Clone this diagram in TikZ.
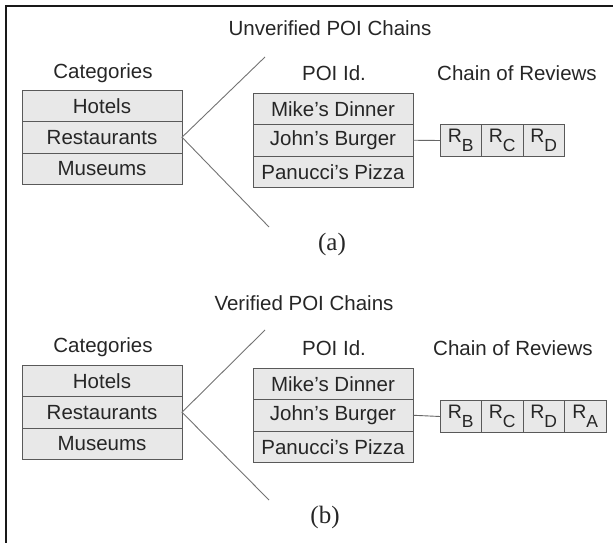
\documentclass[tikz,border=0pt]{standalone}
\usepackage{fontspec}
\setmainfont{Liberation Sans}
\newfontfamily\capfont{Liberation Serif}
\begin{document}
\begin{tikzpicture}[x=1pt,y=-1pt,
  every node/.style={inner sep=0pt,outer sep=0pt,text=black!85},
  lbl/.style={font=\fontsize{20.5}{23}\selectfont},
  panellabel/.style={font=\capfont\fontsize{25}{27}\selectfont},
  cell/.style={draw=black!65,line width=0.9pt,fill=black!9,minimum width=160pt,minimum height=31.5pt,
    font=\fontsize{20.5}{23}\selectfont},
  rev/.style={draw=black!65,line width=0.9pt,fill=black!9,minimum width=41.5pt,minimum height=32pt},
  link/.style={draw=black!60,line width=0.9pt},
  fan/.style={draw=black!55,line width=0.9pt}]
% review symbol: R with a large, deeply lowered index
\newcommand{\rv}[1]{{\fontsize{19.5}{20}\selectfont R}\raisebox{-9pt}{\fontsize{17.5}{20}\selectfont #1}}
\useasboundingbox (0,0) rectangle (613,543);
% frame (top and left edges only)
\draw[line width=2.2pt,black!90] (613,6) -- (6,6) -- (6,543);

% ---- panel (a): unverified chains ----
\node[lbl] (ta) at (330,28) {Unverified POI Chains};
\node[lbl] (cata) at (103,73) {Categories};
\node[cell,anchor=north west] (ha) at (22,90) {Hotels};
\node[cell,anchor=north] (ra) at (ha.south) {Restaurants};
\node[cell,anchor=north] (ma) at (ra.south) {Museums};
\coordinate (ua) at (265,57);
\coordinate (da) at (269,227);
\draw[fan] (ua) -- (ra.east) -- (da);
\node[lbl] (pida) at (334,73) {POI Id.};
\node[cell,anchor=north west] (p1a) at (253,93) {Mike's Dinner};
\node[cell,anchor=north] (p2a) at (p1a.south) {John's Burger};
\node[cell,anchor=north] (p3a) at (p2a.south) {Panucci's Pizza};
\node[lbl] (chna) at (517,73) {Chain of Reviews};
\node[rev,anchor=north west] (rba) at (440,124.5) {\rv{B}};
\node[rev,anchor=west] (rca) at (rba.east) {\rv{C}};
\node[rev,anchor=west] (rda) at (rca.east) {\rv{D}};
\draw[link] (p2a.east) -- (rba.west);
\node[panellabel] (capa) at (332,244) {(a)};

% ---- panel (b): verified chains ----
\node[lbl] (tb) at (304,303) {Verified POI Chains};
\node[lbl] (catb) at (103,347) {Categories};
\node[cell,anchor=north west] (hb) at (22,365) {Hotels};
\node[cell,anchor=north] (rb) at (hb.south) {Restaurants};
\node[cell,anchor=north] (mb) at (rb.south) {Museums};
\coordinate (ub) at (265,330);
\coordinate (db) at (269,500);
\draw[fan] (ub) -- (rb.east) -- (db);
\node[lbl] (pidb) at (334,348) {POI Id.};
\node[cell,anchor=north west] (p1b) at (253,368) {Mike's Dinner};
\node[cell,anchor=north] (p2b) at (p1b.south) {John's Burger};
\node[cell,anchor=north] (p3b) at (p2b.south) {Panucci's Pizza};
\node[lbl] (chnb) at (513,348) {Chain of Reviews};
\node[rev,anchor=north west] (rbb) at (440,400.5) {\rv{B}};
\node[rev,anchor=west] (rcb) at (rbb.east) {\rv{C}};
\node[rev,anchor=west] (rdb) at (rcb.east) {\rv{D}};
\node[rev,anchor=west] (rab) at (rdb.east) {\rv{A}};
\draw[link] (p2b.east) -- (rbb.west);
\node[panellabel] (capb) at (325,517) {(b)};
\end{tikzpicture}
\end{document}
